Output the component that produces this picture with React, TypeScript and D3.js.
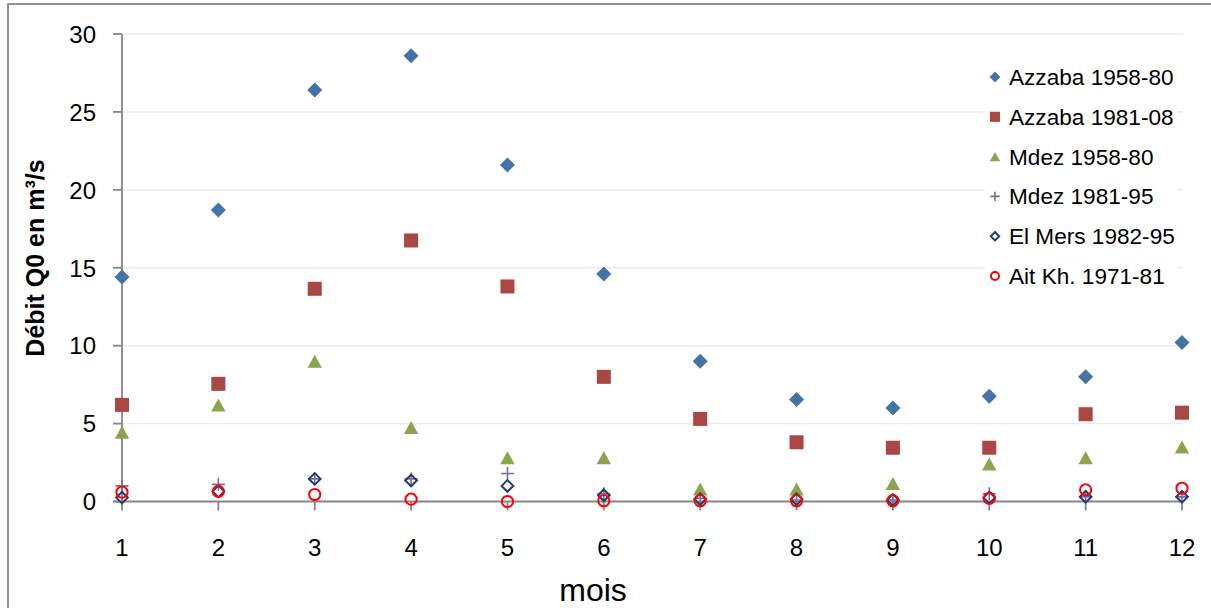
import React from "react";
import * as d3 from "d3";

const months = [1, 2, 3, 4, 5, 6, 7, 8, 9, 10, 11, 12];
const azzaba5880 = [14.4, 18.7, 26.4, 28.6, 21.6, 14.6, 9.0, 6.55, 6.0, 6.75, 8.0, 10.2];
const azzaba8108 = [6.2, 7.55, 13.65, 16.75, 13.8, 8.0, 5.3, 3.8, 3.45, 3.45, 5.6, 5.7];
const mdez5880 = [4.45, 6.2, 9.0, 4.75, 2.8, 2.8, 0.8, 0.8, 1.15, 2.4, 2.8, 3.5];
const mdez8195 = [1.0, 1.1, 1.45, 1.45, 1.8, 0.5, 0.2, 0.1, 0.1, 0.5, 0.3, 0.3];
const elMers8295 = [0.25, 0.65, 1.45, 1.35, 1.0, 0.4, 0.15, 0.15, 0.1, 0.25, 0.3, 0.3];
const aitKh7181 = [0.6, 0.65, 0.45, 0.15, 0.0, 0.05, 0.05, 0.05, 0.05, 0.2, 0.75, 0.85];
const yTicks = [0, 5, 10, 15, 20, 25, 30];

type Shape = "diamond" | "square" | "triangle" | "plus" | "odiamond" | "circle";
const series: { name: string; values: number[]; shape: Shape; color: string }[] = [
  { name: "Azzaba 1958-80", values: azzaba5880, shape: "diamond", color: "#4572A7" },
  { name: "Azzaba 1981-08", values: azzaba8108, shape: "square", color: "#AA4643" },
  { name: "Mdez 1958-80", values: mdez5880, shape: "triangle", color: "#89A54E" },
  { name: "Mdez 1981-95", values: mdez8195, shape: "plus", color: "#7F6A9C" },
  { name: "El Mers 1982-95", values: elMers8295, shape: "odiamond", color: "#1F3B78" },
  { name: "Ait Kh. 1971-81", values: aitKh7181, shape: "circle", color: "#FF0000" },
];

function Marker({ shape, color, x, y, k = 1 }: { shape: Shape; color: string; x: number; y: number; k?: number }) {
  switch (shape) {
    case "diamond": {
      const h = 7.5 * k;
      return <path d={`M${x},${y - h}L${x + h},${y}L${x},${y + h}L${x - h},${y}Z`} fill={color} />;
    }
    case "square": {
      const h = 7 * k;
      return <rect x={x - h} y={y - h} width={2 * h} height={2 * h} fill={color} />;
    }
    case "triangle": {
      const w = 7.2 * k, h = 6.5 * k;
      return <path d={`M${x},${y - h}L${x + w},${y + h}L${x - w},${y + h}Z`} fill={color} />;
    }
    case "plus": {
      const h = 6.5 * k;
      return <path d={`M${x - h},${y}H${x + h}M${x},${y - h}V${y + h}`} stroke={color} strokeWidth={1.6} fill="none" />;
    }
    case "odiamond": {
      const h = 5.8 * k;
      return <path d={`M${x},${y - h}L${x + h},${y}L${x},${y + h}L${x - h},${y}Z`} fill="none" stroke={color} strokeWidth={2} />;
    }
    case "circle":
      return <circle cx={x} cy={y} r={5.6 * k} fill="none" stroke={color} strokeWidth={2} />;
  }
}

export default function App() {
  const W = 1211, H = 608;
  const x = d3.scaleLinear().domain([1, 12]).range([122, 1182]);
  const y = d3.scaleLinear().domain([0, 30]).range([501.5, 34]);
  const axisColor = "#868686";
  const tickFont = "'Liberation Sans', Arial, sans-serif";

  return (
    <svg width={W} height={H} style={{ position: "absolute", left: 0, top: 0, background: "#fff" }}>
      <rect x={0} y={0} width={W} height={H} fill="#fff" />
      <rect x={8} y={4} width={1230} height={640} fill="none" stroke={axisColor} strokeWidth={1.8} />
      {/* gridlines */}
      {yTicks.filter((t) => t > 0).map((t) => (
        <line key={t} x1={x(1)} x2={1183} y1={y(t)} y2={y(t)} stroke="#EBEBEB" strokeWidth={1.5} />
      ))}
      {/* y axis */}
      <line x1={x(1)} x2={x(1)} y1={y(30)} y2={y(0)} stroke={axisColor} strokeWidth={1.8} />
      {yTicks.map((t) => (
        <g key={t}>
          <line x1={113} x2={x(1)} y1={y(t)} y2={y(t)} stroke={axisColor} strokeWidth={1.8} />
          <text x={96} y={y(t) + 8.8} textAnchor="end" fontFamily={tickFont} fontSize={24} fill="#000">
            {t}
          </text>
        </g>
      ))}
      {/* x axis */}
      <line x1={113} x2={1183} y1={y(0)} y2={y(0)} stroke={axisColor} strokeWidth={1.8} />
      {months.map((m) => (
        <g key={m}>
          <line x1={x(m)} x2={x(m)} y1={y(0)} y2={y(0) + 9} stroke={axisColor} strokeWidth={1.8} />
          <text x={x(m)} y={556} textAnchor="middle" fontFamily={tickFont} fontSize={24} fill="#000">
            {m}
          </text>
        </g>
      ))}
      {/* axis titles */}
      <text x={593} y={601} textAnchor="middle" fontFamily={tickFont} fontSize={32} fill="#000">
        mois
      </text>
      <text
        transform={`translate(44,258) rotate(-90)`}
        textAnchor="middle"
        fontFamily={tickFont}
        fontWeight="bold"
        fontSize={25}
        fill="#000"
      >
        Débit Q0 en m³/s
      </text>
      {/* points */}
      {series.map((s) => (
        <g key={s.name}>
          {s.values.map((v, i) => (
            <Marker key={i} shape={s.shape} color={s.color} x={x(months[i])} y={y(v)} />
          ))}
        </g>
      ))}
      {/* legend */}
      <rect x={985} y={58} width={192} height={238} fill="#fff" />
      {series.map((s, i) => {
        const cy = 77 + i * 39.8;
        return (
          <g key={s.name}>
            <Marker shape={s.shape} color={s.color} x={995} y={cy} k={0.72} />
            <text x={1009} y={cy + 8} fontFamily={tickFont} fontSize={22.6} fill="#000">
              {s.name}
            </text>
          </g>
        );
      })}
    </svg>
  );
}
